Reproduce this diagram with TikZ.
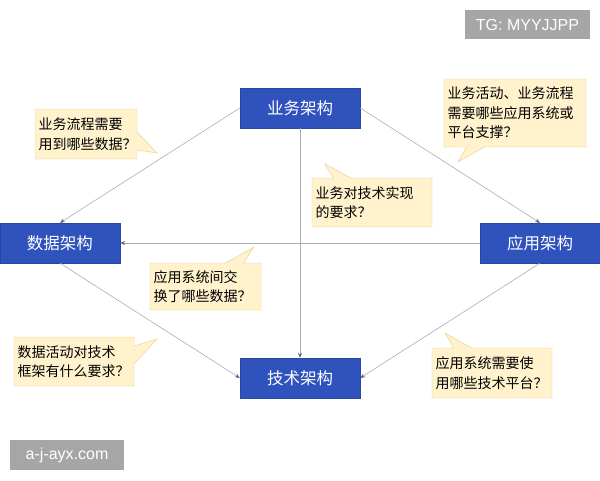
\documentclass[tikz,border=0pt]{standalone}
\usepackage{fontspec}
\setmainfont{Noto Sans CJK SC}
\newfontfamily\tagfont{Liberation Sans}
\usetikzlibrary{shapes.callouts,arrows.meta}

\definecolor{archblue}{HTML}{2F52BD}
\definecolor{archline}{HTML}{2A46A0}
\definecolor{notefill}{HTML}{FFF2CC}
\definecolor{noteline}{HTML}{E2CF8E}
\definecolor{linkgray}{HTML}{A9ADBA}
\definecolor{tipblue}{HTML}{56648F}
\definecolor{taggray}{HTML}{A6A6A6}

\begin{document}
\begin{tikzpicture}[x=1pt,y=-1pt]
\tikzset{arch/.style = {draw=archline, fill=archblue, text=white, minimum width=120pt, minimum height=40pt, inner sep=0pt, font=\fontsize{16.5}{16.5}\selectfont}}
\tikzset{note/.style = {rectangle callout, draw=noteline, fill=notefill, align=left, inner xsep=3.5pt, inner ysep=2pt, callout pointer width=18pt, font=\fontsize{14}{19.5}\selectfont}}
\tikzset{link/.style = {draw=linkgray, line width=0.6pt, -{Stealth[length=5pt,width=4pt,color=tipblue]}}}
\tikzset{tagbox/.style = {fill=taggray, text=white, inner sep=0pt, font=\tagfont\fontsize{16}{16}\selectfont}}

\useasboundingbox (0,0) rectangle (600,480);

\node[arch] (biz)  at (300,108) {业务架构};
\node[arch] (data) at (60,243)  {数据架构};
\node[arch] (app)  at (540,243) {应用架构};
\node[arch] (tech) at (300,378) {技术架构};

\draw[link] (biz.west)  -- (data.north);
\draw[link] (biz.east)  -- (app.north);
\draw[link] (biz.south) -- (tech.north);
\draw[link] (app.west)  -- (data.east);
\draw[link] (data.south) -- (tech.west);
\draw[link] (app.south) -- (tech.east);

\node[note, text width=95pt,  minimum height=50pt, callout absolute pointer={(157,153)}] (q1) at (86,134)    {业务流程需要\\用到哪些数据？};
\node[note, text width=135pt, minimum height=68pt, callout absolute pointer={(458,162)}] (q2) at (515,113)   {业务活动、业务流程\\需要哪些应用系统或\\平台支撑？};
\node[note, text width=113pt, minimum height=49pt, callout absolute pointer={(325,164)}] (q3) at (372,202.5) {业务对技术实现\\的要求？};
\node[note, text width=104pt, minimum height=47pt, callout absolute pointer={(254,247)}] (q4) at (205.5,286.5) {应用系统间交\\换了哪些数据？};
\node[note, text width=113pt, minimum height=49pt, callout absolute pointer={(157,339)}] (q5) at (74,361.5)  {数据活动对技术\\框架有什么要求？};
\node[note, text width=113pt, minimum height=50pt, callout absolute pointer={(445,333)}] (q6) at (492,373)   {应用系统需要使\\用哪些技术平台？};

\node[tagbox, minimum width=125pt, minimum height=29pt] (tg)   at (527.5,24.5) {TG: MYYJJPP};
\node[tagbox, minimum width=114pt, minimum height=30pt] (site) at (67,455)     {a-j-ayx.com};

\end{tikzpicture}
\end{document}
